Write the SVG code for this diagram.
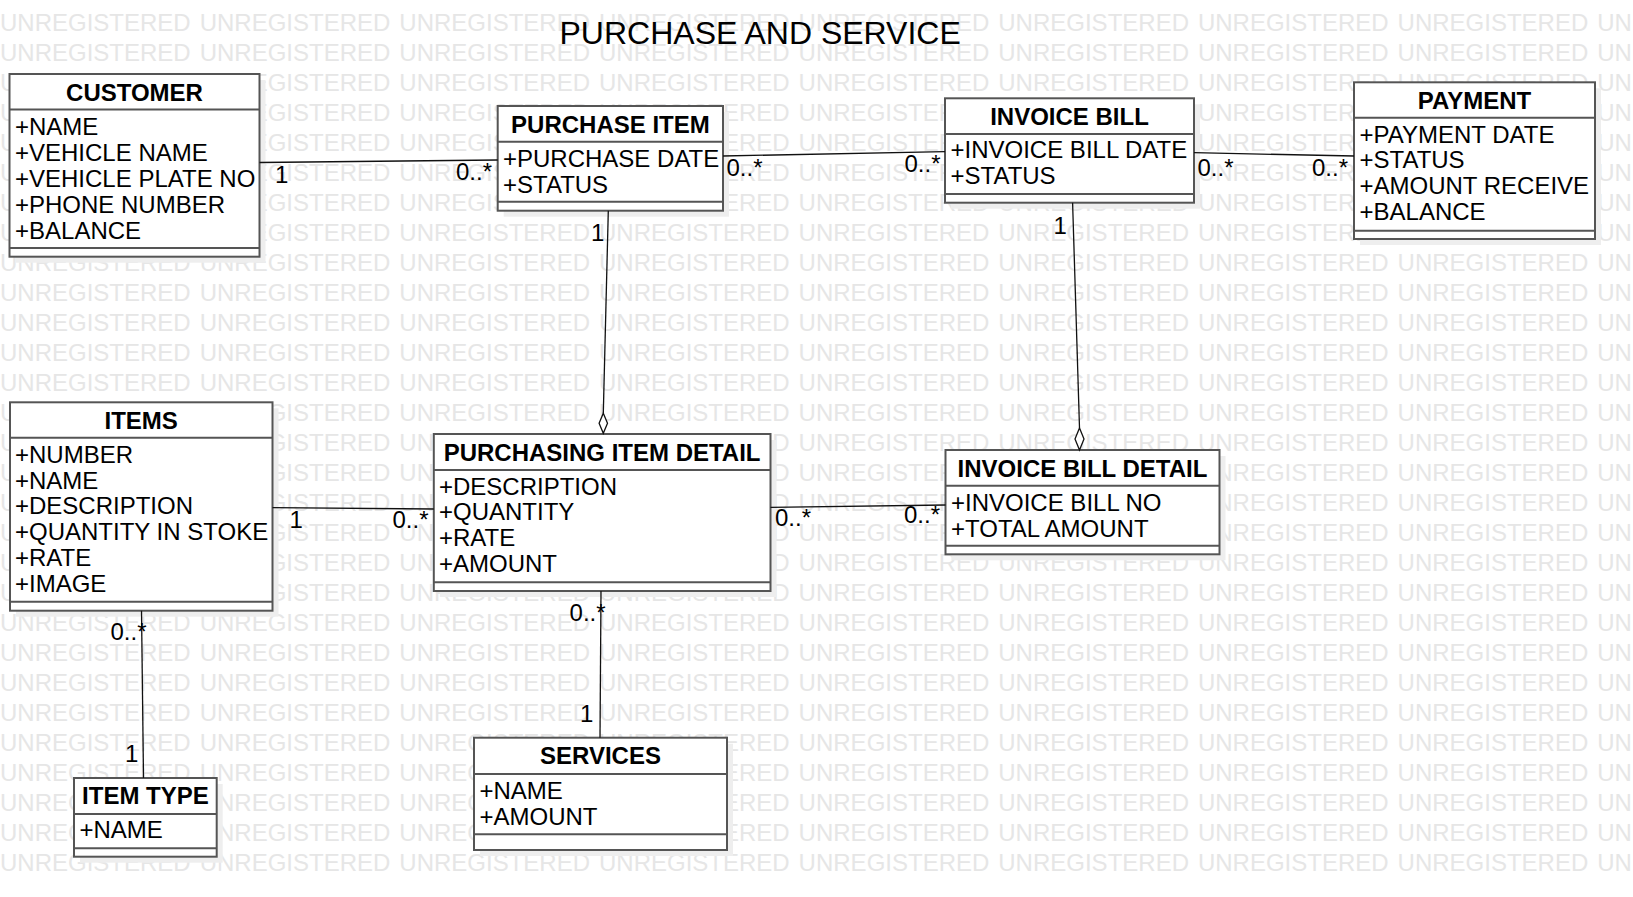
<svg xmlns="http://www.w3.org/2000/svg" width="1633" height="897" viewBox="0 0 1633 897">
<style>
text{font-family:"Liberation Sans",Arial,sans-serif;font-size:24px;fill:#000}
.wm text{font-size:24px;fill:#e6e6e6;word-spacing:2.3px}
.title{font-size:32px}
.hd{font-weight:bold;text-anchor:middle}
.box{fill:#fff;stroke:#555;stroke-width:2}
.sh{fill:#eeeeee}
.sep{stroke:#555;stroke-width:2}
.ln{stroke:#111;stroke-width:1.3;fill:none}
.dia{fill:#fff;stroke:#111;stroke-width:1.3}
</style>
<rect width="1633" height="897" fill="#fff"/>
<g class="wm" id="watermark">
<text x="0" y="30.5">UNREGISTERED UNREGISTERED UNREGISTERED UNREGISTERED UNREGISTERED UNREGISTERED UNREGISTERED UNREGISTERED UNREGISTERED</text>
<text x="0" y="60.5">UNREGISTERED UNREGISTERED UNREGISTERED UNREGISTERED UNREGISTERED UNREGISTERED UNREGISTERED UNREGISTERED UNREGISTERED</text>
<text x="0" y="90.5">UNREGISTERED UNREGISTERED UNREGISTERED UNREGISTERED UNREGISTERED UNREGISTERED UNREGISTERED UNREGISTERED UNREGISTERED</text>
<text x="0" y="120.5">UNREGISTERED UNREGISTERED UNREGISTERED UNREGISTERED UNREGISTERED UNREGISTERED UNREGISTERED UNREGISTERED UNREGISTERED</text>
<text x="0" y="150.5">UNREGISTERED UNREGISTERED UNREGISTERED UNREGISTERED UNREGISTERED UNREGISTERED UNREGISTERED UNREGISTERED UNREGISTERED</text>
<text x="0" y="180.5">UNREGISTERED UNREGISTERED UNREGISTERED UNREGISTERED UNREGISTERED UNREGISTERED UNREGISTERED UNREGISTERED UNREGISTERED</text>
<text x="0" y="210.5">UNREGISTERED UNREGISTERED UNREGISTERED UNREGISTERED UNREGISTERED UNREGISTERED UNREGISTERED UNREGISTERED UNREGISTERED</text>
<text x="0" y="240.5">UNREGISTERED UNREGISTERED UNREGISTERED UNREGISTERED UNREGISTERED UNREGISTERED UNREGISTERED UNREGISTERED UNREGISTERED</text>
<text x="0" y="270.5">UNREGISTERED UNREGISTERED UNREGISTERED UNREGISTERED UNREGISTERED UNREGISTERED UNREGISTERED UNREGISTERED UNREGISTERED</text>
<text x="0" y="300.5">UNREGISTERED UNREGISTERED UNREGISTERED UNREGISTERED UNREGISTERED UNREGISTERED UNREGISTERED UNREGISTERED UNREGISTERED</text>
<text x="0" y="330.5">UNREGISTERED UNREGISTERED UNREGISTERED UNREGISTERED UNREGISTERED UNREGISTERED UNREGISTERED UNREGISTERED UNREGISTERED</text>
<text x="0" y="360.5">UNREGISTERED UNREGISTERED UNREGISTERED UNREGISTERED UNREGISTERED UNREGISTERED UNREGISTERED UNREGISTERED UNREGISTERED</text>
<text x="0" y="390.5">UNREGISTERED UNREGISTERED UNREGISTERED UNREGISTERED UNREGISTERED UNREGISTERED UNREGISTERED UNREGISTERED UNREGISTERED</text>
<text x="0" y="420.5">UNREGISTERED UNREGISTERED UNREGISTERED UNREGISTERED UNREGISTERED UNREGISTERED UNREGISTERED UNREGISTERED UNREGISTERED</text>
<text x="0" y="450.5">UNREGISTERED UNREGISTERED UNREGISTERED UNREGISTERED UNREGISTERED UNREGISTERED UNREGISTERED UNREGISTERED UNREGISTERED</text>
<text x="0" y="480.5">UNREGISTERED UNREGISTERED UNREGISTERED UNREGISTERED UNREGISTERED UNREGISTERED UNREGISTERED UNREGISTERED UNREGISTERED</text>
<text x="0" y="510.5">UNREGISTERED UNREGISTERED UNREGISTERED UNREGISTERED UNREGISTERED UNREGISTERED UNREGISTERED UNREGISTERED UNREGISTERED</text>
<text x="0" y="540.5">UNREGISTERED UNREGISTERED UNREGISTERED UNREGISTERED UNREGISTERED UNREGISTERED UNREGISTERED UNREGISTERED UNREGISTERED</text>
<text x="0" y="570.5">UNREGISTERED UNREGISTERED UNREGISTERED UNREGISTERED UNREGISTERED UNREGISTERED UNREGISTERED UNREGISTERED UNREGISTERED</text>
<text x="0" y="600.5">UNREGISTERED UNREGISTERED UNREGISTERED UNREGISTERED UNREGISTERED UNREGISTERED UNREGISTERED UNREGISTERED UNREGISTERED</text>
<text x="0" y="630.5">UNREGISTERED UNREGISTERED UNREGISTERED UNREGISTERED UNREGISTERED UNREGISTERED UNREGISTERED UNREGISTERED UNREGISTERED</text>
<text x="0" y="660.5">UNREGISTERED UNREGISTERED UNREGISTERED UNREGISTERED UNREGISTERED UNREGISTERED UNREGISTERED UNREGISTERED UNREGISTERED</text>
<text x="0" y="690.5">UNREGISTERED UNREGISTERED UNREGISTERED UNREGISTERED UNREGISTERED UNREGISTERED UNREGISTERED UNREGISTERED UNREGISTERED</text>
<text x="0" y="720.5">UNREGISTERED UNREGISTERED UNREGISTERED UNREGISTERED UNREGISTERED UNREGISTERED UNREGISTERED UNREGISTERED UNREGISTERED</text>
<text x="0" y="750.5">UNREGISTERED UNREGISTERED UNREGISTERED UNREGISTERED UNREGISTERED UNREGISTERED UNREGISTERED UNREGISTERED UNREGISTERED</text>
<text x="0" y="780.5">UNREGISTERED UNREGISTERED UNREGISTERED UNREGISTERED UNREGISTERED UNREGISTERED UNREGISTERED UNREGISTERED UNREGISTERED</text>
<text x="0" y="810.5">UNREGISTERED UNREGISTERED UNREGISTERED UNREGISTERED UNREGISTERED UNREGISTERED UNREGISTERED UNREGISTERED UNREGISTERED</text>
<text x="0" y="840.5">UNREGISTERED UNREGISTERED UNREGISTERED UNREGISTERED UNREGISTERED UNREGISTERED UNREGISTERED UNREGISTERED UNREGISTERED</text>
<text x="0" y="870.5">UNREGISTERED UNREGISTERED UNREGISTERED UNREGISTERED UNREGISTERED UNREGISTERED UNREGISTERED UNREGISTERED UNREGISTERED</text>
</g>
<text id="title" class="title" x="559.5" y="44.3">PURCHASE AND SERVICE</text>

<g id="customer">
<rect class="sh" x="15.5" y="80" width="250" height="182.7"/>
<rect class="box" x="9.5" y="74" width="250" height="182.7"/>
<line class="sep" x1="9.5" y1="109.5" x2="259.5" y2="109.5"/>
<line class="sep" x1="9.5" y1="248" x2="259.5" y2="248"/>
<text class="hd" x="134.5" y="100.5">CUSTOMER</text>
<text x="15" y="135">+NAME</text>
<text x="15" y="160.9">+VEHICLE NAME</text>
<text x="15" y="186.8">+VEHICLE PLATE NO</text>
<text x="15" y="212.7">+PHONE NUMBER</text>
<text x="15" y="238.6">+BALANCE</text>
</g>

<g id="purchase-item">
<rect class="sh" x="503.7" y="112" width="225.3" height="104.7"/>
<rect class="box" x="497.7" y="106" width="225.3" height="104.7"/>
<line class="sep" x1="497.7" y1="141.7" x2="723" y2="141.7"/>
<line class="sep" x1="497.7" y1="201.7" x2="723" y2="201.7"/>
<text class="hd" x="610.4" y="132.5">PURCHASE ITEM</text>
<text x="503" y="167.3">+PURCHASE DATE</text>
<text x="503" y="193.1">+STATUS</text>
</g>

<g id="invoice-bill">
<rect class="sh" x="951" y="104.3" width="249" height="104.4"/>
<rect class="box" x="945" y="98.3" width="249" height="104.4"/>
<line class="sep" x1="945" y1="134" x2="1194" y2="134"/>
<line class="sep" x1="945" y1="194" x2="1194" y2="194"/>
<text class="hd" x="1069.5" y="124.8">INVOICE BILL</text>
<text x="950.5" y="158.3">+INVOICE BILL DATE</text>
<text x="950.5" y="184.1">+STATUS</text>
</g>

<g id="payment">
<rect class="sh" x="1360" y="88.3" width="241" height="156.7"/>
<rect class="box" x="1354" y="82.3" width="241" height="156.7"/>
<line class="sep" x1="1354" y1="117.7" x2="1595" y2="117.7"/>
<line class="sep" x1="1354" y1="230.7" x2="1595" y2="230.7"/>
<text class="hd" x="1474.5" y="108.6">PAYMENT</text>
<text x="1359.5" y="142.7">+PAYMENT DATE</text>
<text x="1359.5" y="168.4">+STATUS</text>
<text x="1359.5" y="194.1">+AMOUNT RECEIVE</text>
<text x="1359.5" y="219.8">+BALANCE</text>
</g>

<g id="items">
<rect class="sh" x="16" y="408.3" width="262.5" height="208.4"/>
<rect class="box" x="10" y="402.3" width="262.5" height="208.4"/>
<line class="sep" x1="10" y1="437.7" x2="272.5" y2="437.7"/>
<line class="sep" x1="10" y1="601.7" x2="272.5" y2="601.7"/>
<text class="hd" x="141.2" y="428.5">ITEMS</text>
<text x="15" y="462.7">+NUMBER</text>
<text x="15" y="488.5">+NAME</text>
<text x="15" y="514.3">+DESCRIPTION</text>
<text x="15" y="540.1">+QUANTITY IN STOKE</text>
<text x="15" y="565.9">+RATE</text>
<text x="15" y="591.7">+IMAGE</text>
</g>

<g id="purchasing-item-detail">
<rect class="sh" x="439.8" y="440" width="336.7" height="157"/>
<rect class="box" x="433.8" y="434" width="336.7" height="157"/>
<line class="sep" x1="433.8" y1="470" x2="770.5" y2="470"/>
<line class="sep" x1="433.8" y1="582.3" x2="770.5" y2="582.3"/>
<text class="hd" x="602.1" y="460.7">PURCHASING ITEM DETAIL</text>
<text x="439" y="494.5">+DESCRIPTION</text>
<text x="439" y="520.2">+QUANTITY</text>
<text x="439" y="545.9">+RATE</text>
<text x="439" y="571.6">+AMOUNT</text>
</g>

<g id="invoice-bill-detail">
<rect class="sh" x="951.5" y="456" width="274" height="104.3"/>
<rect class="box" x="945.5" y="450" width="274" height="104.3"/>
<line class="sep" x1="945.5" y1="485.7" x2="1219.5" y2="485.7"/>
<line class="sep" x1="945.5" y1="545.7" x2="1219.5" y2="545.7"/>
<text class="hd" x="1082.5" y="476.7">INVOICE BILL DETAIL</text>
<text x="951" y="510.7">+INVOICE BILL NO</text>
<text x="951" y="536.5">+TOTAL AMOUNT</text>
</g>

<g id="item-type">
<rect class="sh" x="80" y="784" width="142.7" height="78.7"/>
<rect class="box" x="74" y="778" width="142.7" height="78.7"/>
<line class="sep" x1="74" y1="814" x2="216.7" y2="814"/>
<line class="sep" x1="74" y1="848.3" x2="216.7" y2="848.3"/>
<text class="hd" x="145.4" y="804">ITEM TYPE</text>
<text x="79.5" y="838.3">+NAME</text>
</g>

<g id="services">
<rect class="sh" x="480" y="743.7" width="253" height="112.3"/>
<rect class="box" x="474" y="737.7" width="253" height="112.3"/>
<line class="sep" x1="474" y1="774" x2="727" y2="774"/>
<line class="sep" x1="474" y1="834.3" x2="727" y2="834.3"/>
<text class="hd" x="600.5" y="764">SERVICES</text>
<text x="479.5" y="799">+NAME</text>
<text x="479.5" y="824.5">+AMOUNT</text>
</g>

<g id="connectors">
<line class="ln" x1="259.5" y1="162.5" x2="497.7" y2="160"/>
<text x="275" y="182.5">1</text>
<text x="456" y="180">0..*</text>
<line class="ln" x1="723" y1="156" x2="945" y2="151.7"/>
<text x="726.5" y="175.5">0..*</text>
<text x="904.5" y="171.5">0..*</text>
<line class="ln" x1="1194" y1="152.7" x2="1354" y2="156"/>
<text x="1197.5" y="175.5">0..*</text>
<text x="1312" y="175.5">0..*</text>
<line class="ln" x1="608.3" y1="210.7" x2="603.3" y2="413.3"/>
<path class="dia" d="M603.3,413.3 L607.5,423.3 L603.3,433.3 L599.1,423.3 Z"/>
<text x="591" y="240.5">1</text>
<line class="ln" x1="1072.6" y1="202.7" x2="1079.5" y2="428"/>
<path class="dia" d="M1079.5,428 L1084,439 L1079.5,450 L1075,439 Z"/>
<text x="1053.6" y="233.5">1</text>
<line class="ln" x1="272.5" y1="507.7" x2="433.8" y2="509"/>
<text x="289.5" y="527.5">1</text>
<text x="392.5" y="528.3">0..*</text>
<line class="ln" x1="770.5" y1="507.3" x2="945.5" y2="505"/>
<text x="775" y="526">0..*</text>
<text x="904" y="523">0..*</text>
<line class="ln" x1="141.5" y1="610.7" x2="143.5" y2="778"/>
<text x="110.5" y="640">0..*</text>
<text x="125" y="762.3">1</text>
<line class="ln" x1="601" y1="591" x2="600" y2="737.7"/>
<text x="569.6" y="620.7">0..*</text>
<text x="580" y="722">1</text>
</g>
</svg>
